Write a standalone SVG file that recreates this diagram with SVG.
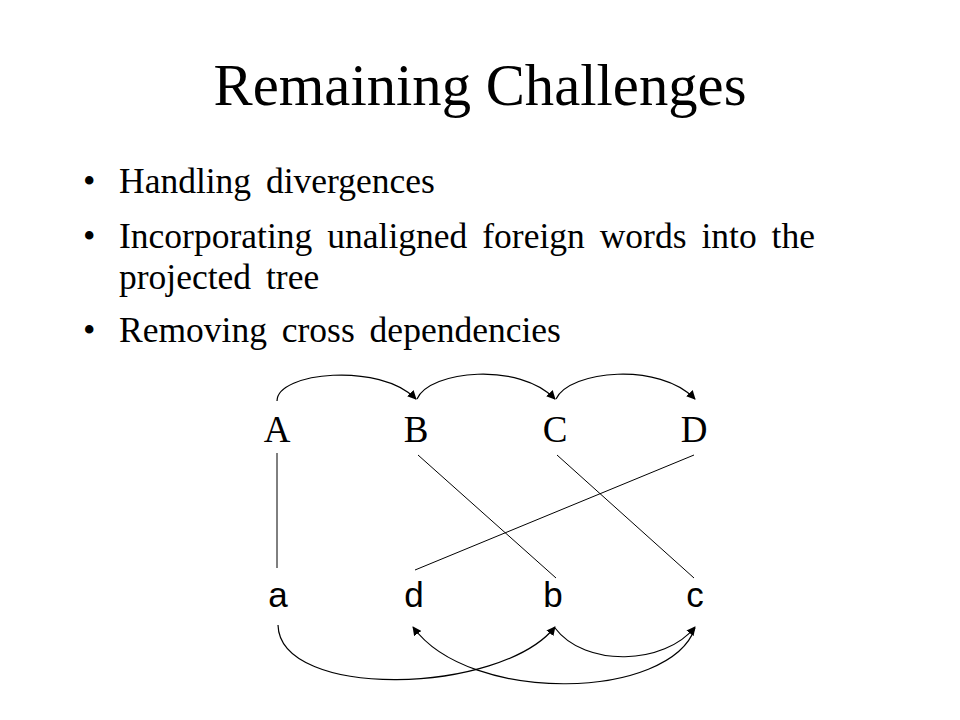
<svg xmlns="http://www.w3.org/2000/svg" width="960" height="720" viewBox="0 0 960 720">
<style>
.title{font-family:"Liberation Serif","Times New Roman",serif;font-size:58.7px;fill:#000}
.bul{font-family:"Liberation Serif","Times New Roman",serif;font-size:35.5px;fill:#000;word-spacing:6px}
.up{font-family:"Liberation Serif","Times New Roman",serif;font-size:37px;fill:#000;text-anchor:middle}
.lo{font-family:"Liberation Sans",Arial,sans-serif;font-size:35px;fill:#000;text-anchor:middle}
.arc{fill:none;stroke:#000;stroke-width:1.2}
.ln{fill:none;stroke:#000;stroke-width:1}
</style>
<defs>
<marker id="ah" viewBox="0 0 10 10" refX="9" refY="5" markerWidth="9" markerHeight="9" markerUnits="userSpaceOnUse" orient="auto">
<path d="M0,0 L10,5 L0,10 z" fill="#000"/>
</marker>
</defs>
<rect width="960" height="720" fill="#fff"/>
<text class="title" x="480" y="105" text-anchor="middle">Remaining Challenges</text>
<g id="bullets">
<text class="bul" x="83" y="193">•</text>
<text class="bul" x="119" y="193">Handling divergences</text>
<text class="bul" x="83" y="248">•</text>
<text class="bul" x="119" y="248" textLength="696" lengthAdjust="spacing">Incorporating unaligned foreign words into the</text>
<text class="bul" x="119" y="288.5">projected tree</text>
<text class="bul" x="83" y="342">•</text>
<text class="bul" x="119" y="342">Removing cross dependencies</text>
</g>
<g id="node-A"><text class="up" x="277" y="442">A</text></g>
<g id="node-B"><text class="up" x="416" y="442">B</text></g>
<g id="node-C"><text class="up" x="555" y="442">C</text></g>
<g id="node-D"><text class="up" x="694" y="442">D</text></g>
<g id="node-a"><text class="lo" x="278" y="607">a</text></g>
<g id="node-d"><text class="lo" x="414" y="607">d</text></g>
<g id="node-b"><text class="lo" x="553" y="607">b</text></g>
<g id="node-c"><text class="lo" x="695" y="607">c</text></g>
<g id="connectors">
<path class="arc" d="M277,401 C277,372 380,362 416,399" marker-end="url(#ah)"/>
<path class="arc" d="M417,399 C430,370 520,362 555,399" marker-end="url(#ah)"/>
<path class="arc" d="M556,399 C570,370 660,362 695,399" marker-end="url(#ah)"/>
<line class="ln" x1="277" y1="453" x2="277" y2="568"/>
<line class="ln" x1="418" y1="455" x2="556" y2="578"/>
<line class="ln" x1="557" y1="455" x2="694" y2="578"/>
<line class="ln" x1="694" y1="455" x2="415" y2="570"/>
<path class="arc" d="M278,625 C280,700 500,695 555,627" marker-end="url(#ah)"/>
<path class="arc" d="M555,628 C585,668 665,665 695,627" marker-end="url(#ah)"/>
<path class="arc" d="M695,628 C670,700 470,705 413,627" marker-end="url(#ah)"/>
</g>
</svg>
